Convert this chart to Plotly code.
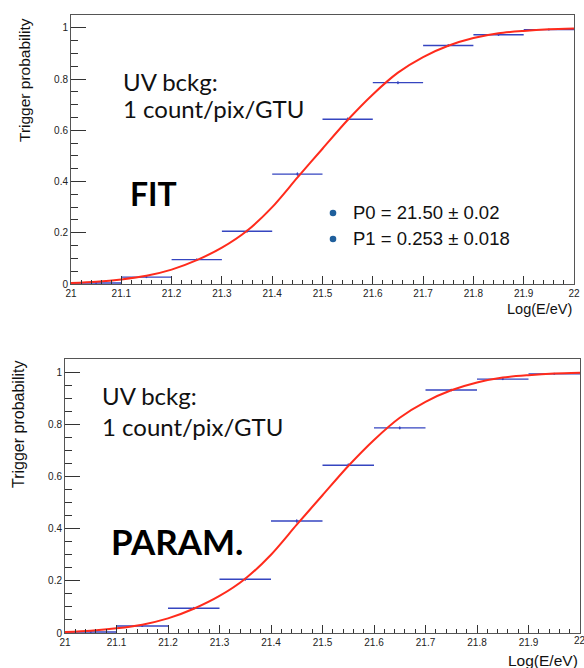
import plotly.graph_objects as go

W, H = 584, 668

# ---- data ----
bin_centers = [21.05, 21.15, 21.25, 21.35, 21.45, 21.55, 21.65, 21.75, 21.85, 21.95]
bin_half_width = [0.05] * 10
trig_prob = [0.004, 0.027, 0.095, 0.206, 0.429, 0.643, 0.786, 0.931, 0.973, 0.993]
trig_err = [0.002, 0.004, 0.005, 0.006, 0.007, 0.007, 0.006, 0.005, 0.004, 0.002]

curve_x = [21.0, 21.05, 21.1, 21.15, 21.2, 21.25, 21.3, 21.35, 21.4, 21.45, 21.5,
           21.55, 21.6, 21.65, 21.7, 21.75, 21.8, 21.85, 21.9, 21.95, 22.0]
curve_y = [0.004, 0.009, 0.018, 0.032, 0.056, 0.093, 0.142, 0.208, 0.300, 0.415, 0.528,
           0.640, 0.740, 0.825, 0.886, 0.930, 0.960, 0.979, 0.988, 0.994, 0.997]

panel_labels = ["FIT", "PARAM."]
bg_text = ["UV bckg:", "1 count/pix/GTU"]
fit_params = ["P0 = 21.50 \u00b1 0.02", "P1 = 0.253 \u00b1 0.018"]
x_title = "Log(E/eV)"
y_title = "Trigger probability"
x_last_label = "22"

BLUE = "#3545c0"
RED = "#ff2b1c"
TICKFONT = dict(family="Liberation Sans, Arial", size=10, color="#222222")


def px(x):
    return x / W


def py(y):
    return 1 - y / H


fig = go.Figure()

for i, (xa, ya) in enumerate([("x", "y"), ("x2", "y2")]):
    fig.add_trace(go.Scatter(
        x=bin_centers, y=trig_prob, mode="markers",
        marker=dict(size=2, color=BLUE),
        error_x=dict(type="data", array=bin_half_width, color=BLUE, thickness=1.4, width=0),
        error_y=dict(type="data", array=trig_err, color=BLUE, thickness=1, width=0),
        xaxis=xa, yaxis=ya, showlegend=False, hoverinfo="skip"))
    fig.add_trace(go.Scatter(
        x=curve_x, y=curve_y, mode="lines",
        line=dict(color=RED, width=2, shape="spline", smoothing=0.8),
        xaxis=xa, yaxis=ya, showlegend=False, hoverinfo="skip"))

# panel pixel geometry: (left, right, top, bottom-of-y0)
panels = [(71, 574, 15, 284), (65, 580, 359, 633)]

axis_common = dict(
    showgrid=False, zeroline=False, showline=True, linecolor="#555555", linewidth=1,
    mirror=True, ticks="inside", tickcolor="#333333", tickfont=TICKFONT, automargin=False,
)

for i, (l, r, t, b) in enumerate(panels):
    sx = "" if i == 0 else "2"
    fig.update_layout(**{
        "xaxis" + sx: dict(axis_common, domain=[px(l), px(r)], range=[21, 22],
                           tick0=21, dtick=0.1, ticklen=8,
                           minor=dict(ticks="inside", dtick=0.02, ticklen=4, tickcolor="#333333"),
                           anchor="y" + sx),
        "yaxis" + sx: dict(axis_common, domain=[py(b), py(t)], range=[0, 1.05],
                           tick0=0, dtick=0.2, ticklen=15,
                           minor=dict(ticks="inside", dtick=0.05, ticklen=7, tickcolor="#333333"),
                           anchor="x" + sx),
    })

ann = []
# top panel texts
ann += [
    dict(x=px(121), y=py(81), text=bg_text[0], font=dict(family="Lato", size=24, color="#111111"),
         xanchor="left", yanchor="middle"),
    dict(x=px(121), y=py(108), text=bg_text[1], font=dict(family="Lato", size=24, color="#111111"),
         xanchor="left", yanchor="middle"),
    dict(x=px(128), y=py(193), text="<b>" + panel_labels[0] + "</b>",
         font=dict(family="Lato", size=32, color="#000000"), xanchor="left", yanchor="middle"),
    dict(x=px(351), y=py(213), text=fit_params[0], font=dict(family="Liberation Sans", size=18.5, color="#111111"),
         xanchor="left", yanchor="middle"),
    dict(x=px(351), y=py(239), text=fit_params[1], font=dict(family="Liberation Sans", size=18.5, color="#111111"),
         xanchor="left", yanchor="middle"),
    dict(x=px(574), y=py(309), text=x_title, font=dict(family="Liberation Sans", size=14.5, color="#111111"),
         xanchor="right", yanchor="middle"),
    dict(x=px(25), y=py(16), text=y_title, textangle=-90,
         font=dict(family="Liberation Sans", size=15.5, color="#111111"), xanchor="center", yanchor="top"),
]
# bottom panel texts
ann += [
    dict(x=px(100), y=py(395), text=bg_text[0], font=dict(family="Lato", size=24, color="#111111"),
         xanchor="left", yanchor="middle"),
    dict(x=px(100), y=py(426), text=bg_text[1], font=dict(family="Lato", size=24, color="#111111"),
         xanchor="left", yanchor="middle"),
    dict(x=px(109), y=py(541), text="<b>" + panel_labels[1] + "</b>",
         font=dict(family="Lato", size=35, color="#000000"), xanchor="left", yanchor="middle"),
    dict(x=px(580), y=py(640), text=x_last_label, font=TICKFONT,
         xanchor="center", yanchor="middle"),
    dict(x=px(580), y=py(660), text=x_title, font=dict(family="Liberation Sans", size=15.5, color="#111111"),
         xanchor="right", yanchor="middle"),
    dict(x=px(18.5), y=py(359), text=y_title, textangle=-90,
         font=dict(family="Liberation Sans", size=16, color="#111111"), xanchor="center", yanchor="top"),
]
for a in ann:
    a.update(xref="paper", yref="paper", showarrow=False)

shapes = []
for cy in (213, 239):
    shapes.append(dict(type="circle", xref="paper", yref="paper",
                       x0=px(333 - 3.3), x1=px(333 + 3.3), y0=py(cy + 3.3), y1=py(cy - 3.3),
                       fillcolor="#1f5f9c", line=dict(width=0)))

fig.update_layout(
    width=W, height=H, margin=dict(l=0, r=0, t=0, b=0),
    paper_bgcolor="white", plot_bgcolor="white",
    annotations=ann, shapes=shapes,
)

fig.write_html("out.html")
